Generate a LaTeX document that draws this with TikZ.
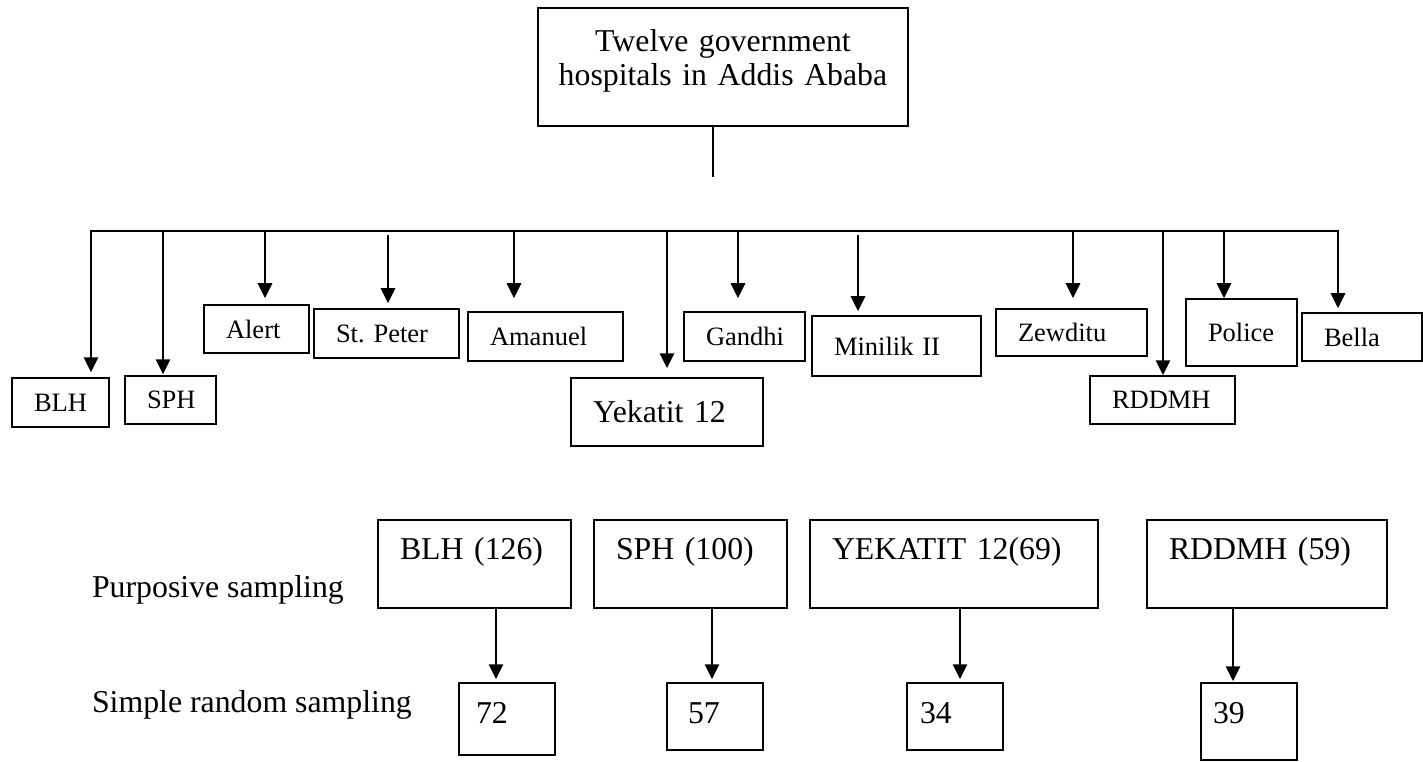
\documentclass[tikz,border=0pt]{standalone}
\usepackage{fontspec}
\setmainfont{Liberation Serif}
\usetikzlibrary{arrows.meta,positioning}
\newlength{\px}
\setlength{\px}{0.3774pt}
\frenchspacing

\begin{document}
\begin{tikzpicture}[x=\px,y=-\px,>={Triangle[length=5.6pt,width=5.4pt]},line width=0.8pt,
  hosp/.style={draw,line width=0.7pt,inner xsep=22*\px,inner ysep=0pt,align=left,font=\fontsize{10}{12}\selectfont},
  big/.style={draw,line width=0.7pt,inner xsep=22*\px,inner ysep=0pt,align=left,font=\fontsize{12}{14}\selectfont},
  num/.style={draw,line width=0.7pt,inner ysep=0pt,align=left,text height=40*\px,font=\fontsize{12}{14}\selectfont},
  lab/.style={inner sep=0pt,anchor=base west,font=\fontsize{12}{14}\selectfont},
  arr/.style={->,line width=0.8pt}]
    \useasboundingbox (0,0) rectangle (1423,761);
    % top box
    \node [big, align=center, inner xsep=5*\px, text width=360*\px, text height=43*\px, text depth=75*\px, font=\fontsize{12}{13.2}\selectfont] (twelve) at (723,67) {Twelve government\\hospitals in Addis Ababa};
    \coordinate (stem) at (713,177);
    \draw (twelve.south -| stem) -- (stem);
    \coordinate (busL) at (90,231);
    \coordinate (busR) at (1339,231);
    \draw (busL) -- (busR);
    % hospitals
    \node [hosp, text width=53*\px, minimum height=49*\px] (BLH) at (60.5,402.5) {BLH};
    \node [hosp, text width=47*\px, minimum height=48*\px] (SPH) at (170.5,400) {SPH};
    \node [hosp, text width=61*\px, minimum height=48*\px] (Alert) at (256.5,329) {Alert};
    \node [hosp, text width=101*\px, minimum height=49*\px] (StPeter) at (386.5,333.5) {St. Peter};
    \node [hosp, text width=111*\px, minimum height=49*\px] (Amanuel) at (545.5,336.5) {Amanuel};
    \node [big, text width=148*\px, minimum height=68*\px] (Yekatit) at (667,412) {Yekatit 12};
    \node [hosp, text width=77*\px, minimum height=49*\px] (Gandhi) at (744.5,336.5) {Gandhi};
    \node [hosp, text width=125*\px, minimum height=60*\px] (Minilik) at (896.5,346) {Minilik II};
    \node [hosp, text width=107*\px, minimum height=47*\px] (Zewditu) at (1071.5,332.5) {Zewditu};
    \node [hosp, text width=101*\px, minimum height=48*\px] (RDDMH) at (1162.5,400) {RDDMH};
    \node [hosp, text width=67*\px, minimum height=67*\px] (Police) at (1241.5,332.5) {Police};
    \node [hosp, text width=76*\px, minimum height=48*\px] (Bella) at (1362,337) {Bella};
    \foreach \n/\x/\s/\g in {BLH/91/0/5, SPH/163/0/1, Alert/265/0/6, StPeter/388/4/5, Amanuel/514/0/13, Yekatit/667/0/9, Gandhi/738/0/13, Minilik/858/4/4, Zewditu/1073/0/10, RDDMH/1163/0/0, Police/1224/0/0, Bella/1338/0/4}
    {
        \coordinate (t-\n) at (\x,231+\s);
        \draw[arr, shorten >=\g*\px] (t-\n) -- (t-\n |- \n.north);
    }
    % sampling
    \node [lab] (purp) at (91,597) {Purposive sampling};
    \node [lab] (srs) at (91,712) {Simple random sampling};
    \node [big, text width=149*\px, text height=39*\px, text depth=49*\px] (pBLH) at (474.5,564) {BLH (126)};
    \node [big, text width=149*\px, text height=39*\px, text depth=49*\px] (pSPH) at (690.5,564) {SPH (100)};
    \node [big, text width=244*\px, text height=39*\px, text depth=49*\px] (pYEK) at (954,564) {YEKATIT 12(69)};
    \node [big, text width=196*\px, text height=39*\px, text depth=49*\px] (pRDD) at (1267,564) {RDDMH (59)};
    \node [num, inner xsep=17*\px, text width=62*\px, text depth=32*\px] (n72) at (507,719) {72};
    \node [num, inner xsep=21*\px, text width=54*\px, text depth=27*\px] (n57) at (715,716.5) {57};
    \node [num, inner xsep=13*\px, text width=70*\px, text depth=27*\px] (n34) at (955,716.5) {34};
    \node [num, inner xsep=12*\px, text width=72*\px, text depth=37*\px] (n39) at (1249,721.5) {39};
    \foreach \a/\b/\x/\g in {pBLH/n72/496/3, pSPH/n57/712/3, pYEK/n34/960/3, pRDD/n39/1233/1}
    {
        \coordinate (d-\b) at (\x,0);
        \draw[arr, shorten >=\g*\px] (d-\b |- \a.south) -- (d-\b |- \b.north);
    }
\end{tikzpicture}
\end{document}
